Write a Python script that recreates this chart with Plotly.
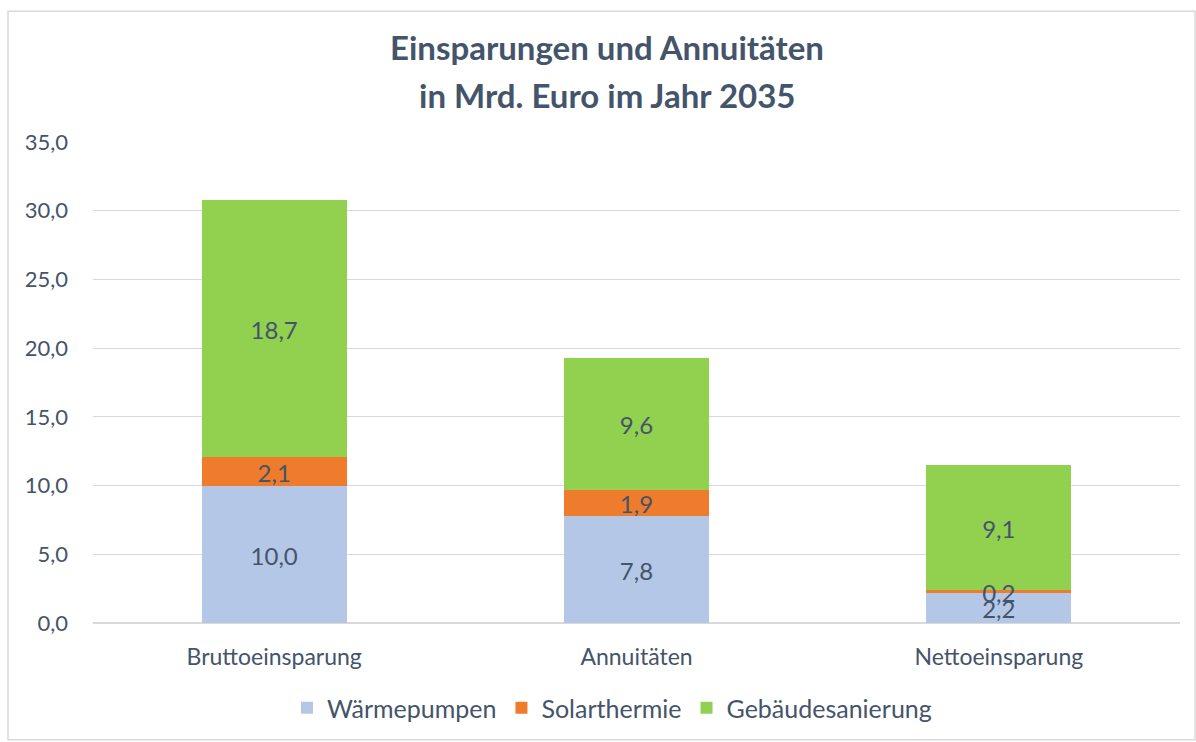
import plotly.graph_objects as go

categories = ["Bruttoeinsparung", "Annuitäten", "Nettoeinsparung"]
waermepumpen = [10.0, 7.8, 2.2]
solarthermie = [2.1, 1.9, 0.2]
gebaeude = [18.7, 9.6, 9.1]
y_ticks = [0, 5, 10, 15, 20, 25, 30, 35]
title_lines = ["Einsparungen und Annuitäten", "in Mrd. Euro im Jahr 2035"]

TXT = "#44546A"
FONT = "Lato"
PH = 482.0  # plot height in px
PW = 1087.0
Y_MAX = 35.0
LABEL_DY = -4.5 * Y_MAX / PH  # nudge labels down ~4.5 px

series = [("Wärmepumpen", waermepumpen, "#B4C7E7"),
          ("Solarthermie", solarthermie, "#EF7B2C"),
          ("Gebäudesanierung", gebaeude, "#92D050")]

fig = go.Figure()
base = [0.0] * len(categories)
label_traces = []
for name, vals, col in series:
    fig.add_trace(go.Bar(
        x=categories, y=vals, name=name,
        marker=dict(color=col, line=dict(width=0)),
        hoverinfo="skip",
    ))
    mids = [b + v / 2 + LABEL_DY for b, v in zip(base, vals)]
    label_traces.append(go.Scatter(
        x=categories, y=mids, mode="text",
        text=[f"{v:.1f}".replace(".", ",") for v in vals],
        textposition="middle center",
        textfont=dict(family=FONT, size=24, color=TXT),
        showlegend=False, hoverinfo="skip", cliponaxis=False,
    ))
    base = [b + v for b, v in zip(base, vals)]
for t in label_traces:
    fig.add_trace(t)

annotations = []
for i, line in enumerate(title_lines):
    annotations.append(dict(
        text=f"<b>{line}</b>", xref="paper", yref="paper",
        x=0.5 + (607 - 93 - PW / 2) / PW, y=(577 - 48 * i) / PH,
        xanchor="center", yanchor="middle", showarrow=False,
        font=dict(family=FONT, size=33, color=TXT)))

fig.update_layout(
    barmode="stack", bargap=0.6,
    width=1196, height=742,
    separators=",.",
    paper_bgcolor="white", plot_bgcolor="white",
    font=dict(family=FONT, color=TXT),
    annotations=annotations,
    margin=dict(l=93, r=16, t=142, b=118),
    xaxis=dict(tickfont=dict(family=FONT, size=23, color=TXT), showline=False,
               ticks="", showgrid=False, ticklabelstandoff=18),
    yaxis=dict(range=[0, Y_MAX], tickvals=y_ticks, tickformat=".1f",
               tickfont=dict(family=FONT, size=22, color=TXT),
               showgrid=True, gridcolor="#D9D9D9", gridwidth=1,
               zeroline=True, zerolinecolor="#D9D9D9", ticks="", ticklabelstandoff=24),
    legend=dict(orientation="h", x=0.5 + (612 - 93 - PW / 2) / PW, xanchor="center",
                y=-(708 - 624) / PH, yanchor="middle",
                font=dict(family=FONT, size=25, color=TXT), itemwidth=30,
                traceorder="normal"),
    shapes=[dict(type="rect", xref="paper", yref="paper",
                 x0=-85 / PW, x1=1.0 + 15 / PW, y0=-117 / PH, y1=1 + 131 / PH,
                 line=dict(color="#D9D9D9", width=1.5), layer="below")],
)

fig.write_html("out.html", config={"displayModeBar": False},
               post_script="document.body.style.margin='0';document.body.style.padding='0';")
